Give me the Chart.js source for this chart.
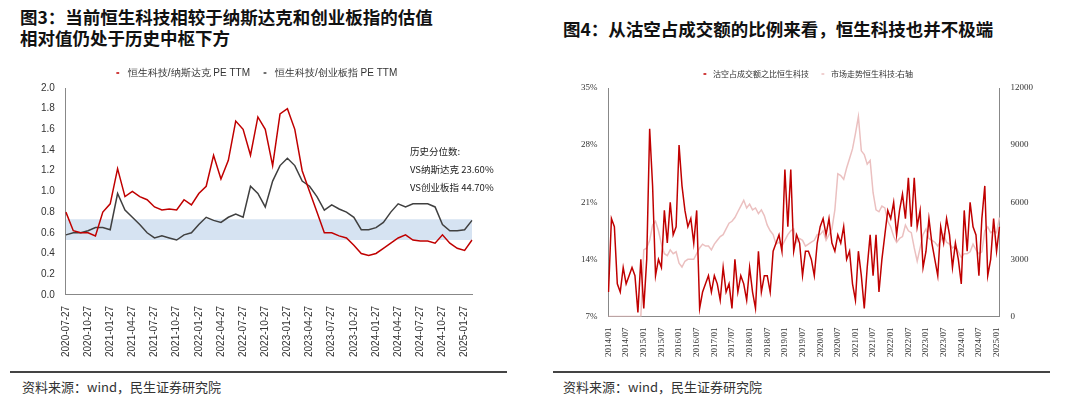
<!DOCTYPE html>
<html><head><meta charset="utf-8">
<script src="https://cdn.jsdelivr.net/npm/chart.js@4/dist/chart.umd.min.js"></script>
<style>
body{margin:0;width:1080px;height:402px;background:#fff;position:relative;overflow:hidden;font-family:"Noto Sans CJK SC","Noto Sans",sans-serif}
.t{position:absolute;font-weight:bold;font-size:17.5px;line-height:21px;color:#111}
.src{position:absolute;top:377px;font-size:13px;color:#333}
.hr{position:absolute;top:371px;height:2px;background:#444}
.note{position:absolute;left:410px;top:142px;font-size:9.5px;line-height:18px;color:#222}
</style></head><body>
<div class="t" style="left:20px;top:6px">图3：当前恒生科技相较于纳斯达克和创业板指的估值<br>相对值仍处于历史中枢下方</div>
<div class="t" style="left:563px;top:18px">图4：从沽空占成交额的比例来看，恒生科技也并不极端</div>
<div style="position:absolute;left:0;top:58px;width:530px;height:302px"><canvas id="c1"></canvas></div>
<div style="position:absolute;left:548px;top:60px;width:532px;height:300px"><canvas id="c2"></canvas></div>
<div class="note">历史分位数:<br>VS纳斯达克 23.60%<br>VS创业板指 44.70%</div>
<div class="hr" style="left:10px;width:497px"></div>
<div class="hr" style="left:553px;width:497px"></div>
<div class="src" style="left:22px">资料来源：wind，民生证券研究院</div>
<div class="src" style="left:563px">资料来源：wind，民生证券研究院</div>
<script>
// ---- Chart 1 data (monthly, 2020-07 .. 2025-02)
const months1 = [];
for (let y=2020,m=7; y<2025 || (y===2025 && m<=2); m++) { if(m>12){m=1;y++;} if(y===2025&&m>2)break; months1.push(y+'-'+String(m).padStart(2,'0')+'-27'); }
const nasdaqRatio = [0.80,0.62,0.60,0.60,0.57,0.80,
 0.88,1.22,0.95,1.00,0.95,0.92,0.85,0.82,0.83,0.82,0.92,0.87,
 0.98,1.05,1.35,1.12,1.30,1.68,1.60,1.35,1.72,1.60,1.25,1.75,
 1.80,1.60,1.20,1.00,0.80,0.60,0.60,0.57,0.55,0.48,0.40,0.38,
 0.40,0.45,0.50,0.55,0.58,0.53,0.52,0.52,0.50,0.58,0.50,0.45,
 0.43,0.53];
const chinextRatio = [0.58,0.60,0.60,0.62,0.65,0.65,
 0.63,0.98,0.82,0.75,0.68,0.60,0.55,0.57,0.55,0.53,0.58,0.60,
 0.68,0.75,0.72,0.70,0.75,0.78,0.75,1.05,0.98,0.85,1.10,1.25,
 1.32,1.25,1.10,1.05,0.95,0.82,0.87,0.83,0.80,0.75,0.63,0.63,
 0.65,0.70,0.80,0.88,0.85,0.88,0.88,0.88,0.85,0.68,0.62,0.62,
 0.63,0.72];
const bandLow = 0.53, bandHigh = 0.73;

// ---- Chart 2 data (monthly, 2014/01 .. 2025/02)
const months2 = [];
for (let y=2014;y<=2025;y++) for(let m=1;m<=12;m++){ if(y===2025&&m>2)break; months2.push(y+'/'+String(m).padStart(2,'0')); }
const shortRatio = [10,19,18,11,10,13,11,12,13,12,7.5,14,
 8,14,30,23,12,14,13,20,16,21,17,18,
 28,23,20,18,19,16,20,8,10,11,12,10,
 12,11,9,13,10,11,8,14,10,12,11,9,
 13,10,8,15,10,12,12,10,15,16,17,15,
 25,18,25,15,17,16,12,15,15,14,12,16,
 18,19,17,19,16,15,17,16,18,14,15,11,
 9,15,12,8,13,17,12,17,10,14,17,20,
 19,21,17,20,22,19,24,18,24,18,20,13,
 15,19,16,14,12,18,16,19,17,13,16,14,
 11,20,15,21,18,17,12,19,23,12,14,19,
 15,18];
const hstech = [0,0,0,0,0,0,0,0,0,0,0,0,
 3500,3600,4000,4800,5000,4500,3800,3300,3200,3500,3300,3400,
 2800,2600,2900,3000,3000,3000,3300,3600,3800,3700,3700,3500,
 3800,4000,4200,4300,4600,4900,5000,5200,5500,5800,6100,5700,
 5900,5600,5700,5400,5600,5300,4800,4500,4300,3800,3900,3700,
 4000,4300,4500,4600,3900,4100,4000,3700,3800,3900,4000,4300,
 4300,4500,4000,4300,4600,5600,7500,7400,7200,7800,8300,8800,
 9600,10500,8700,8500,8000,8200,6500,5600,5500,5800,5700,5000,
 4700,4200,3900,4100,4200,4800,4500,4400,3600,2900,3600,4300,
 4600,4100,4000,3900,3700,4000,4300,3900,3800,3600,3700,3400,
 3100,3300,3300,3400,3800,3500,3300,3400,4500,4700,4400,4500,
 4400,5200];

const RED='#c00000';
const legendLine = {usePointStyle:true,pointStyle:'line',boxWidth:22,boxHeight:2};
new Chart(document.getElementById('c1'),{
 type:'line',
 data:{labels:months1,datasets:[
  {label:'恒生科技/纳斯达克 PE TTM',data:nasdaqRatio,borderColor:RED,borderWidth:1.5,pointRadius:0,tension:0},
  {label:'恒生科技/创业板指 PE TTM',data:chinextRatio,borderColor:'#404040',borderWidth:1.5,pointRadius:0,tension:0},
  {label:'lo',data:months1.map(()=>bandLow),borderWidth:0,pointRadius:0,fill:false},
  {label:'hi',data:months1.map(()=>bandHigh),borderWidth:0,pointRadius:0,fill:'-1',backgroundColor:'rgba(200,218,238,0.75)'}
 ]},
 options:{responsive:true,maintainAspectRatio:false,animation:false,
  layout:{padding:{left:38,right:58,top:0,bottom:0}},
  plugins:{legend:{labels:{...legendLine,color:'#333',font:{size:10},filter:i=>i.datasetIndex<2}},tooltip:{enabled:false}},
  scales:{
   x:{grid:{display:false},border:{color:'#888'},ticks:{autoSkip:false,maxRotation:90,minRotation:90,color:'#333',font:{size:10},
     callback:(v,i)=>i%3===0?months1[i]:null}},
   y:{min:0,max:2,grid:{display:false},border:{color:'#888'},ticks:{stepSize:0.2,color:'#333',font:{size:10},callback:v=>v.toFixed(1)}}
  }}
});
new Chart(document.getElementById('c2'),{
 type:'line',
 data:{labels:months2,datasets:[
  {label:'沽空占成交额之比恒生科技',data:shortRatio,borderColor:RED,borderWidth:1.5,pointRadius:0,yAxisID:'y',order:1},
  {label:'市场走势恒生科技:右轴',data:hstech,borderColor:'#ebc0c0',borderWidth:1.5,pointRadius:0,yAxisID:'y1',order:2}
 ]},
 options:{responsive:true,maintainAspectRatio:false,animation:false,
  layout:{padding:{left:30,right:44,top:0,bottom:0}},
  plugins:{legend:{labels:{...legendLine,color:'#333',font:{size:8,family:'"Noto Sans CJK SC"'}}},tooltip:{enabled:false}},
  scales:{
   x:{grid:{display:false},border:{color:'#888'},ticks:{autoSkip:false,maxRotation:90,minRotation:90,color:'#333',font:{size:9,family:'"Liberation Serif"'},
     callback:(v,i)=>i%6===0?months2[i]:null}},
   y:{min:7,max:35,grid:{display:false},border:{color:'#888'},ticks:{stepSize:7,color:'#333',font:{size:9,family:'"Liberation Serif"'},callback:v=>v+'%'}},
   y1:{position:'right',min:0,max:12000,grid:{display:false},border:{color:'#888'},ticks:{stepSize:3000,color:'#333',font:{size:9,family:'"Liberation Serif"'},callback:v=>String(v)}}
  }}
});
</script>
</body></html>
